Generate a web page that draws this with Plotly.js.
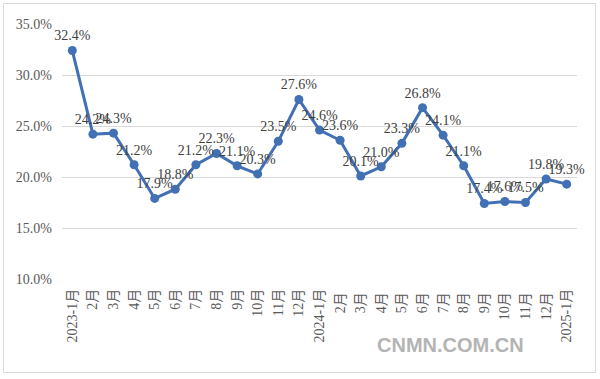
<!DOCTYPE html>
<html><head><meta charset="utf-8">
<script src="https://cdn.plot.ly/plotly-3.0.1.min.js"></script>
<style>
html,body{margin:0;padding:0;background:#fff;}
#wrap{position:relative;width:600px;height:379px;}
#chart{width:600px;height:379px;}
#frame{position:absolute;left:3px;top:3px;width:591px;height:368px;border:1px solid #d9d9d9;pointer-events:none;}
</style></head>
<body>
<div id="wrap"><div id="chart"></div><div id="frame"></div></div>
<script>
var categories = ["2023-1月","2月","3月","4月","5月","6月","7月","8月","9月","10月","11月","12月",
  "2024-1月","2月 ","3月 ","4月 ","5月 ","6月 ","7月 ","8月 ","9月 ","10月 ","11月 ","12月 ","2025-1月"];
var values = [32.4,24.2,24.3,21.2,17.9,18.8,21.2,22.3,21.1,20.3,23.5,27.6,
  24.6,23.6,20.1,21.0,23.3,26.8,24.1,21.1,17.4,17.6,17.5,19.8,19.3];
var yTicks = [10,15,20,25,30,35];
var yTickLabels = ["10.0%","15.0%","20.0%","25.0%","30.0%","35.0%"];
var watermark = "CNMN.COM.CN";

var font = "Liberation Serif, Noto Sans CJK SC, serif";
var trace = {
  x: categories, y: values, type: "scatter", mode: "lines+markers+text",
  line: {color: "#4170b4", width: 3},
  marker: {color: "#4170b4", size: 9},
  text: values.map(function(v){return v.toFixed(1)+"%";}),
  textposition: "top center",
  textfont: {family: font, size: 14, color: "#404040"},
  cliponaxis: false,
  hoverinfo: "none"
};
var layout = {
  width: 600, height: 379,
  margin: {l: 62, r: 23, t: 24, b: 100},
  paper_bgcolor: "#fff", plot_bgcolor: "#fff",
  showlegend: false,
  xaxis: {type: "category", range: [-0.5, 24.5], tickangle: -90, showgrid: false,
    zeroline: false, showline: false, ticks: "", ticklabelstandoff: 6,
    tickfont: {family: font, size: 14, color: "#595959"}},
  yaxis: {range: [10, 35], tickvals: yTicks, ticktext: yTickLabels,
    showgrid: true, gridcolor: "#d9d9d9", gridwidth: 1, zeroline: false, showline: false,
    ticks: "", ticklabelstandoff: 9,
    tickfont: {family: font, size: 14, color: "#595959"}},
  annotations: [{text: watermark, xref: "paper", yref: "paper", x: 0.755, y: -0.259,
    xanchor: "center", yanchor: "middle", showarrow: false,
    font: {family: "Liberation Sans, Arial, sans-serif", size: 20, weight: "bold", color: "#b4b4b4"}}]
};
Plotly.newPlot("chart", [trace], layout, {displayModeBar: false, staticPlot: true});
</script>
</body></html>
